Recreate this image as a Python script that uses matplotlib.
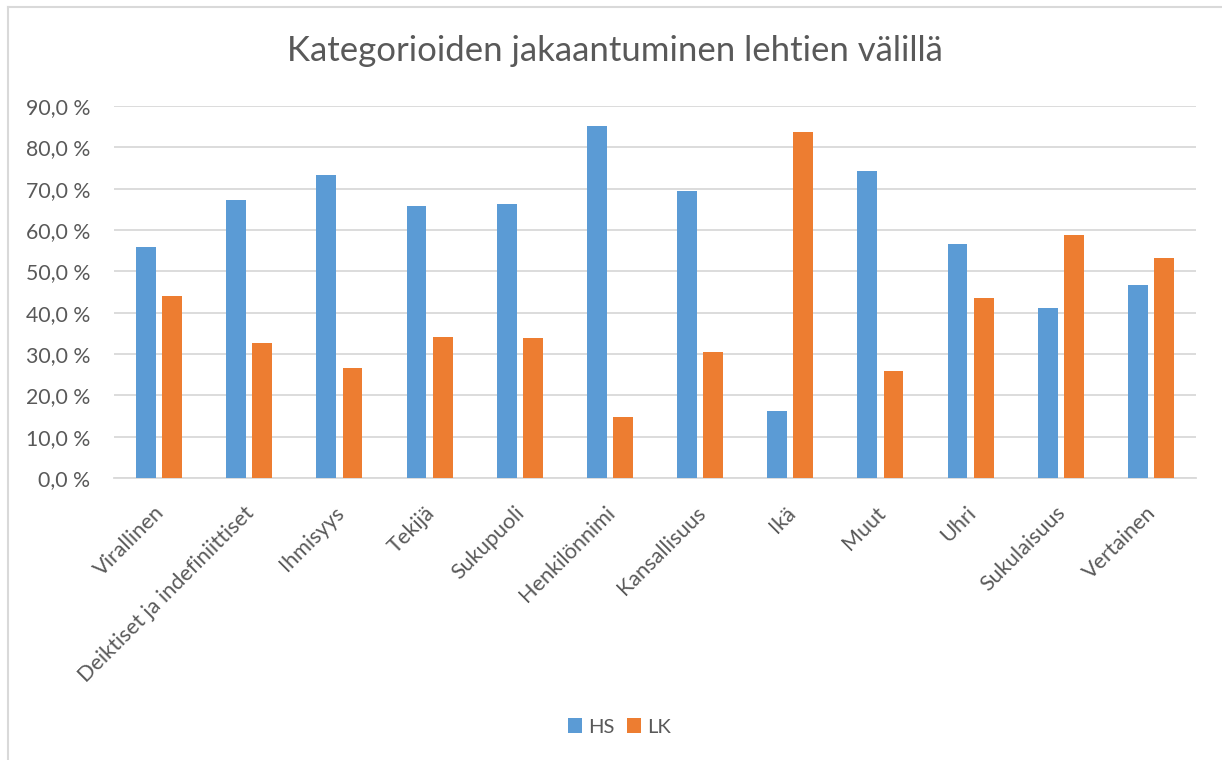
import matplotlib
matplotlib.use("Agg")
import matplotlib.pyplot as plt
from matplotlib.lines import Line2D
from matplotlib.ticker import FuncFormatter
import matplotlib.transforms as mtransforms
import numpy as np

categories = ["Virallinen", "Deiktiset ja indefiniittiset", "Ihmisyys", "Tekijä",
              "Sukupuoli", "Henkilönnimi", "Kansallisuus", "Ikä", "Muut", "Uhri",
              "Sukulaisuus", "Vertainen"]
hs_values = [56.0, 67.3, 73.3, 65.9, 66.2, 85.2, 69.4, 16.3, 74.2, 56.5, 41.2, 46.7]
lk_values = [44.0, 32.7, 26.7, 34.1, 33.8, 14.8, 30.6, 83.7, 25.8, 43.5, 58.8, 53.3]
series_names = ["HS", "LK"]
title = "Kategorioiden jakaantuminen lehtien välillä"

plt.rcParams['font.family'] = ['Lato', 'DejaVu Sans']
text_color = "#595959"
grid_color = "#d9d9d9"
colors = ["#5B9BD5", "#ED7D31"]

fig = plt.figure(figsize=(12.22, 7.60), dpi=100)
ax = fig.add_axes([114/1222, 1-478/760, (1196-114)/1222, (478-106)/760])

x = np.arange(len(categories))
w = 0.22
off = 0.145
ax.bar(x - off, hs_values, width=w, color=colors[0], label=series_names[0], zorder=3)
ax.bar(x + off, lk_values, width=w, color=colors[1], label=series_names[1], zorder=3)

ax.set_xlim(-0.5, len(categories) - 0.5)
ax.set_ylim(0, 90)
ax.set_yticks(np.arange(0, 91, 10))
ax.yaxis.set_major_formatter(FuncFormatter(lambda v, p: f"{v:.1f}".replace(".", ",") + " %"))
ax.grid(axis='y', color=grid_color, linewidth=1.3, zorder=0)
ax.set_axisbelow(True)
for s in ['top', 'right', 'left']:
    ax.spines[s].set_visible(False)
ax.spines['bottom'].set_color(grid_color)
ax.spines['bottom'].set_linewidth(1.3)
ax.tick_params(axis='both', length=0, colors=text_color)
ax.tick_params(axis='y', pad=17, labelsize=15.3)
ax.tick_params(axis='x', pad=12, labelsize=15.6)
ax.set_xticks(x)
ax.set_xticklabels(categories, rotation=45, ha='right', va='top', rotation_mode='anchor')
shift = mtransforms.ScaledTranslation(-5/100, -8/100, fig.dpi_scale_trans)
for lbl in ax.get_xticklabels():
    lbl.set_transform(lbl.get_transform() + shift)

fig.text(0.503, 1-51/760, title, ha='center', va='center', fontsize=25, color=text_color)

leg = fig.legend(loc='center', bbox_to_anchor=(0.507, 1-727/760), ncol=2, frameon=False,
                 fontsize=14.5, labelcolor=text_color, handlelength=0.72, handleheight=0.72,
                 handletextpad=0.3, columnspacing=0.6)

fig.add_artist(Line2D([8/1222, 8/1222], [0, 1-7/760], transform=fig.transFigure, color=grid_color, lw=1.5))
fig.add_artist(Line2D([8/1222, 1], [1-7/760, 1-7/760], transform=fig.transFigure, color=grid_color, lw=1.5))

fig.savefig("out.png", dpi=100, facecolor="white")
